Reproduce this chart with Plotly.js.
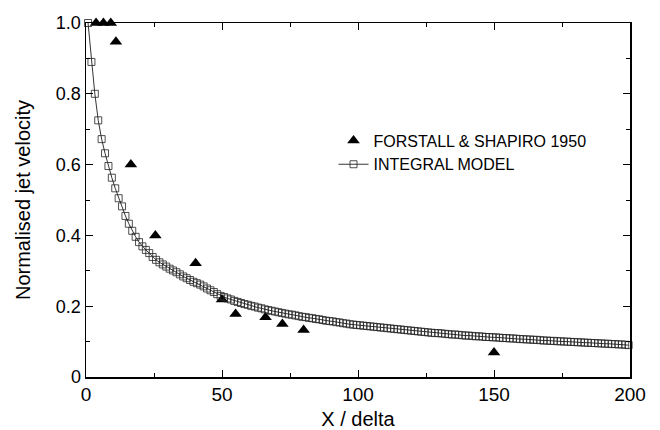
<!DOCTYPE html>
<html>
<head>
<meta charset="utf-8">
<script src="https://cdn.plot.ly/plotly-3.0.1.min.js"></script>
<style>html,body{margin:0;padding:0;background:#fff;}#chart{width:660px;height:430px;}</style>
</head>
<body>
<div id="chart"></div>
<script>
// Experimental data: Forstall & Shapiro 1950
const expX = [3.7, 6.4, 9.1, 11.0, 16.5, 25.5, 40.3, 50, 55, 66, 72.2, 80, 150];
const expY = [1.0, 1.0, 1.0, 0.947, 0.60, 0.40, 0.321, 0.219, 0.178, 0.169, 0.15, 0.133, 0.069];

// Integral model curve
const modelX = [0.75, 2, 3.25, 4.5, 5.75, 7, 8.25, 9.5, 10.75, 12, 13.25, 14.5, 15.75, 17, 18.25, 19.5, 20.75, 22, 23.25, 24.5,
  25.75, 27, 28.25, 29.5, 30.75, 32, 33.25, 34.5, 35.75, 37, 38.25, 39.5, 40.75, 42, 43.25, 44.5, 45.75, 47, 48.25, 49.5,
  50.75, 52, 53.25, 54.5, 55.75, 57, 58.25, 59.5, 60.75, 62, 63.25, 64.5, 65.75, 67, 68.25, 69.5, 70.75, 72, 73.25, 74.5,
  75.75, 77, 78.25, 79.5, 80.75, 82, 83.25, 84.5, 85.75, 87, 88.25, 89.5, 90.75, 92, 93.25, 94.5, 95.75, 97, 98.25, 99.5,
  100.75, 102, 103.25, 104.5, 105.75, 107, 108.25, 109.5, 110.75, 112, 113.25, 114.5, 115.75, 117, 118.25, 119.5, 120.75, 122, 123.25, 124.5,
  125.75, 127, 128.25, 129.5, 130.75, 132, 133.25, 134.5, 135.75, 137, 138.25, 139.5, 140.75, 142, 143.25, 144.5, 145.75, 147, 148.25, 149.5,
  150.75, 152, 153.25, 154.5, 155.75, 157, 158.25, 159.5, 160.75, 162, 163.25, 164.5, 165.75, 167, 168.25, 169.5, 170.75, 172, 173.25, 174.5,
  175.75, 177, 178.25, 179.5, 180.75, 182, 183.25, 184.5, 185.75, 187, 188.25, 189.5, 190.75, 192, 193.25, 194.5, 195.75, 197, 198.25, 199.5];
const modelY = [1.0, 0.89, 0.80, 0.725, 0.672, 0.632, 0.596, 0.563, 0.533, 0.505, 0.482, 0.455, 0.433, 0.413, 0.396, 0.381, 0.369, 0.359, 0.350, 0.339,
  0.331, 0.324, 0.318, 0.312, 0.306, 0.301, 0.296, 0.290, 0.284, 0.279, 0.274, 0.269, 0.265, 0.261, 0.256, 0.250, 0.245, 0.240, 0.234, 0.229,
  0.226, 0.222, 0.219, 0.215, 0.212, 0.209, 0.206, 0.204, 0.201, 0.199, 0.196, 0.194, 0.191, 0.189, 0.187, 0.185, 0.183, 0.181, 0.179, 0.177,
  0.176, 0.174, 0.172, 0.170, 0.169, 0.167, 0.166, 0.164, 0.163, 0.161, 0.159, 0.158, 0.157, 0.155, 0.154, 0.152, 0.151, 0.149, 0.148, 0.147,
  0.146, 0.145, 0.144, 0.143, 0.142, 0.141, 0.140, 0.139, 0.138, 0.137, 0.136, 0.135, 0.134, 0.133, 0.132, 0.131, 0.130, 0.129, 0.128, 0.127,
  0.126, 0.125, 0.124, 0.124, 0.123, 0.122, 0.121, 0.120, 0.120, 0.119, 0.118, 0.117, 0.117, 0.116, 0.115, 0.115, 0.114, 0.113, 0.113, 0.112,
  0.112, 0.111, 0.110, 0.110, 0.109, 0.109, 0.108, 0.107, 0.107, 0.106, 0.106, 0.105, 0.105, 0.104, 0.103, 0.103, 0.102, 0.102, 0.101, 0.101,
  0.100, 0.100, 0.099, 0.099, 0.098, 0.098, 0.097, 0.097, 0.096, 0.096, 0.095, 0.095, 0.094, 0.094, 0.093, 0.093, 0.092, 0.092, 0.091, 0.090];

const xTicks = [0, 50, 100, 150, 200];
const yTickVals = [0, 0.2, 0.4, 0.6, 0.8, 1.0];
const yTickText = ["0", "0.2", "0.4", "0.6", "0.8", "1.0"];

const FONT = "Liberation Sans, Arial, Helvetica, sans-serif";

const traces = [
  {
    x: expX, y: expY, type: "scatter", mode: "markers",
    name: "FORSTALL & SHAPIRO 1950",
    marker: {symbol: "triangle-up", size: 11, color: "#000"},
    cliponaxis: false
  },
  {
    x: modelX, y: modelY, type: "scatter", mode: "lines+markers",
    name: "INTEGRAL MODEL",
    line: {color: "#000", width: 0.8},
    marker: {symbol: "square-open", size: 7, color: "#222", line: {width: 0.8, color: "#222"}},
    cliponaxis: false
  }
];

const axisCommon = {
  showgrid: false, zeroline: false,
  showline: true, linecolor: "#000", linewidth: 1.5, mirror: "ticks",
  ticks: "inside", ticklen: 7, tickwidth: 1, tickcolor: "#000"
};

const layout = {
  width: 660, height: 430,
  margin: {l: 86, r: 30, t: 23, b: 53},
  paper_bgcolor: "#fff", plot_bgcolor: "#fff",
  font: {family: FONT, color: "#000"},
  showlegend: true,
  legend: {
    x: 0.455, y: 0.716, xanchor: "left", yanchor: "top",
    bgcolor: "rgba(0,0,0,0)", borderwidth: 0,
    font: {family: FONT, size: 16, color: "#000"},
    tracegroupgap: 0
  },
  xaxis: Object.assign({}, axisCommon, {
    range: [0, 200], tickmode: "array", tickvals: xTicks,
    tickfont: {family: FONT, size: 19, color: "#000"},
    minor: {ticks: "inside", ticklen: 4, tickmode: "linear", tick0: 0, dtick: 25, tickcolor: "#000"},
    title: {text: "X / delta", font: {family: FONT, size: 20, color: "#000"}, standoff: 16}
  }),
  yaxis: Object.assign({}, axisCommon, {
    range: [0, 1], tickmode: "array", tickvals: yTickVals, ticktext: yTickText,
    tickfont: {family: FONT, size: 18, color: "#000"},
    minor: {ticks: "inside", ticklen: 4, tickmode: "linear", tick0: 0, dtick: 0.1, tickcolor: "#000"},
    title: {text: "Normalised jet velocity", font: {family: FONT, size: 20, color: "#000"}, standoff: 20}
  })
};

Plotly.newPlot("chart", traces, layout, {staticPlot: true, displayModeBar: false});
</script>
</body>
</html>
